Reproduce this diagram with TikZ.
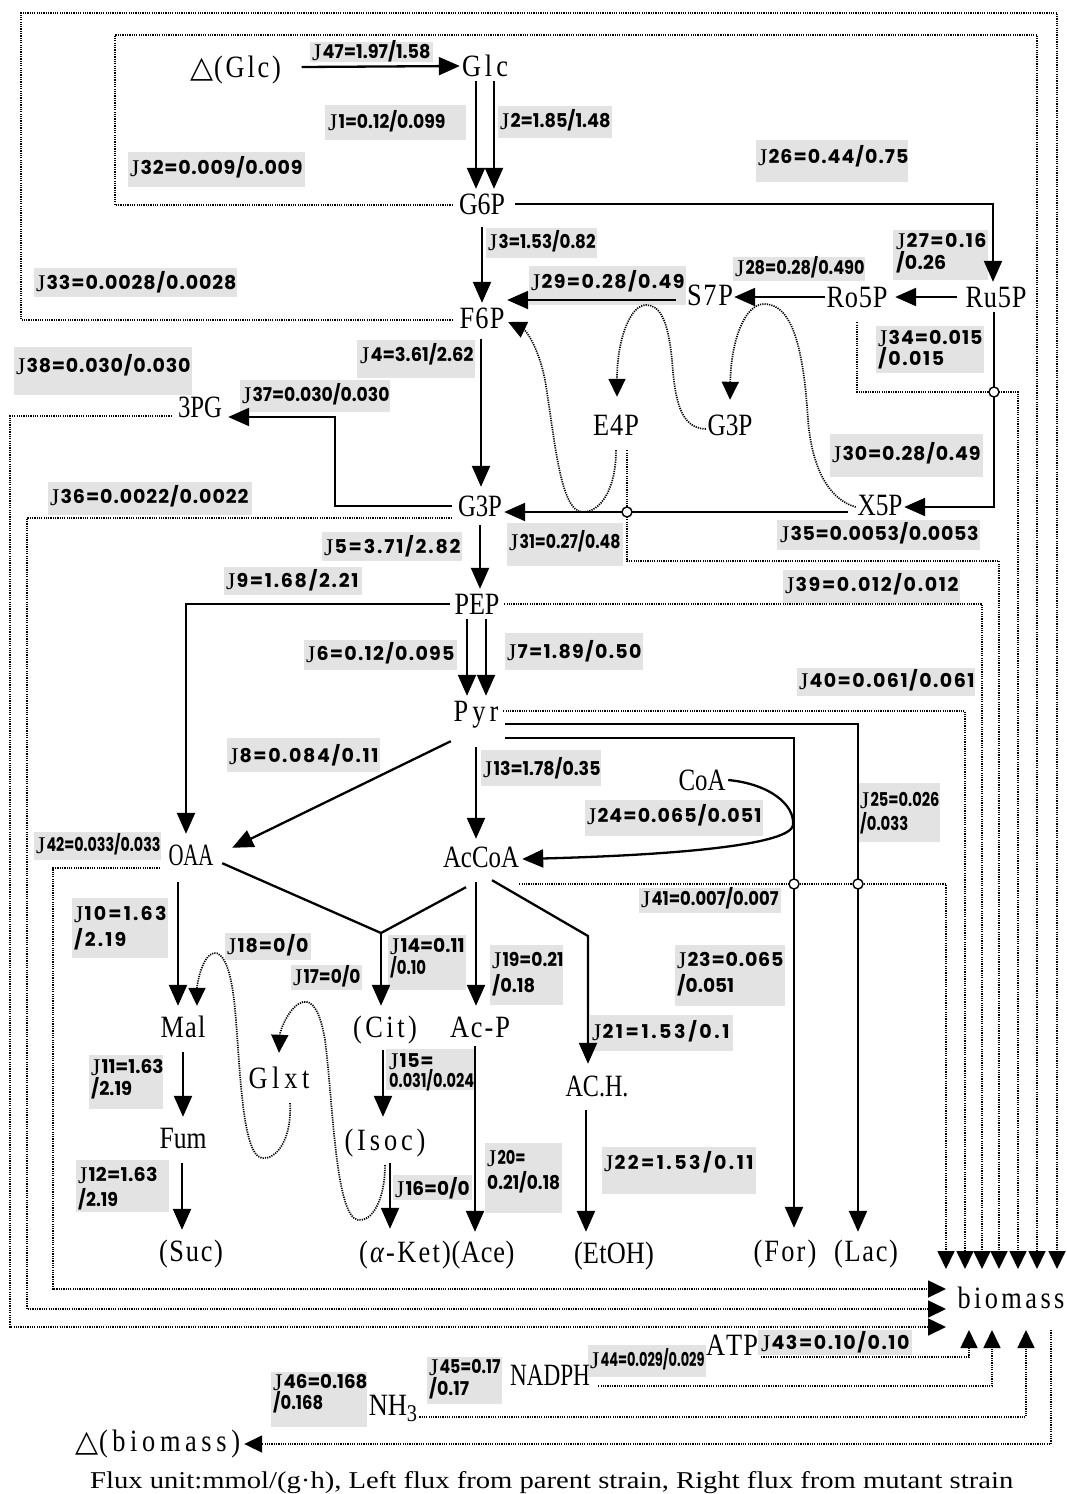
\documentclass[tikz,border=0pt]{standalone}
\usepackage{fontspec}
\usepackage{graphicx}
\usetikzlibrary{arrows.meta,calc}
\newfontfamily\metfam{Liberation Serif}[FakeStretch=0.85]
\newfontfamily\jfam{Liberation Serif}
\newfontfamily\popp{Poppins}
\newfontfamily\symf{DejaVu Sans}
\newfontfamily\capf{Liberation Serif}
\definecolor{lbg}{HTML}{E3E3E3}
\newcommand\metfont{\metfam\fontsize{31}{34}\selectfont}
\newcommand\labfont{\popp\bfseries\fontsize{19}{22}\selectfont}
\newcommand\jf{\jfam\mdseries\fontsize{24}{24}\selectfont}
\newcommand\Jl{\raisebox{-2pt}{\jf J}\kern1pt}
\newcommand\trisym{{\symf\fontsize{30}{30}\selectfont △}}
\newcommand\aK{{\itshape α}}
\newcommand\sthree{\raisebox{-6pt}{\fontsize{24}{24}\selectfont 3}}
\newlength\natw
\newlength\kamt
\newcount\nch
\def\cntaux#1{\ifx#1\relax\else\advance\nch by 1\relax\expandafter\cntaux\fi}
\def\spcaux#1{\ifx#1\relax\else\kern\kamt\relax#1\expandafter\spcaux\fi}
\def\spcfirst#1{#1\spcaux}
\newcommand\fitw[2]{\settowidth\natw{#2}%
  \ifdim\natw>#1pt\relax
    \pgfmathsetmacro\fitrat{#1/\natw}\scalebox{\fitrat}[1]{#2}%
  \else
    \nch=0\relax\cntaux#2\relax
    \kamt=#1pt\relax\advance\kamt by -\natw\relax
    \ifnum\nch>1\relax\advance\nch by -1\relax\divide\kamt by \nch\relax\fi
    \spcfirst#2\relax
  \fi}
\tikzset{
  met/.style={font=\metfont, inner sep=0pt, minimum height=30pt, text height=21pt, text depth=0pt},
  flux/.style={line width=2.3pt, -{Triangle[length=21pt,width=18pt]}},
  fline/.style={line width=2.3pt},
  dline/.style={line width=1.7pt, dash pattern=on 1.2pt off 1.1pt},
  darr/.style={dline, -{Triangle[length=18pt,width=17pt]}},
  lbx/.style={fill=lbg, inner sep=0pt, draw=none},
  ltx/.style={font=\labfont, inner sep=0pt, text height=13pt, text depth=0pt, align=left},
  jn/.style={circle, draw, fill=white, line width=1.4pt, minimum size=10pt, inner sep=0pt}
}
\newcommand\lbbox[5]{\node[lbx,minimum width={(#4)-(#2)},minimum height={(#5)-(#3)},anchor=north west] (#1) at (#2,#3) {};}
\newcommand\lbtxt[4]{\node[ltx,anchor=west] (#1) at (#2,#3) {#4};}
\begin{document}
\begin{tikzpicture}[x=1pt,y=-1pt]
\useasboundingbox[fill=white] (0,0) rectangle (1067,1494);
% ---------- label boxes ----------
\lbbox{b47}{310}{42}{433}{62}
\lbbox{b1}{325}{105}{466}{140}
\lbbox{b2}{498}{106}{612}{138}
\lbbox{b32}{128}{152}{305}{187}
\lbbox{b26}{756}{140}{908}{182}
\lbbox{b3}{486}{228}{597}{258}
\lbbox{b33}{34}{268}{237}{297}
\lbbox{b27}{893}{230}{988}{280}
\lbbox{b28}{733}{257}{865}{281}
\lbbox{b29}{529}{266}{686}{305}
\lbbox{b34}{876}{326}{984}{373}
\lbbox{b38}{14}{347}{192}{395}
\lbbox{b4}{357}{340}{475}{378}
\lbbox{b37}{240}{380}{390}{412}
\lbbox{b36}{48}{482}{252}{515}
\lbbox{b30}{830}{434}{983}{477}
\lbbox{b31}{507}{523}{623}{566}
\lbbox{b35}{777}{520}{980}{550}
\lbbox{b5}{322}{532}{462}{561}
\lbbox{b9}{224}{567}{362}{595}
\lbbox{b39}{783}{570}{960}{603}
\lbbox{b6}{304}{640}{457}{670}
\lbbox{b7}{505}{633}{643}{670}
\lbbox{b40}{797}{668}{975}{696}
\lbbox{b8}{227}{738}{380}{772}
\lbbox{b13}{481}{750}{601}{786}
\lbbox{b24}{585}{800}{763}{836}
\lbbox{b25}{857}{783}{940}{842}
\lbbox{b42}{34}{832}{161}{860}
\lbbox{b41}{639}{888}{781}{913}
\lbbox{b10}{72}{898}{168}{958}
\lbbox{b18}{225}{933}{311}{960}
\lbbox{b17}{291}{965}{362}{990}
\lbbox{b14}{388}{935}{466}{990}
\lbbox{b19}{490}{945}{563}{1005}
\lbbox{b23}{675}{945}{785}{1006}
\lbbox{b21}{590}{1015}{733}{1051}
\lbbox{b11}{89}{1055}{163}{1109}
\lbbox{b15}{386}{1049}{474}{1090}
\lbbox{b16}{393}{1175}{472}{1200}
\lbbox{b12}{76}{1160}{169}{1212}
\lbbox{b20}{485}{1143}{562}{1213}
\lbbox{b22}{602}{1147}{756}{1194}
\lbbox{b43}{758}{1330}{912}{1355}
\lbbox{b44}{588}{1345}{706}{1377}
\lbbox{b45}{427}{1357}{502}{1404}
\lbbox{b46}{271}{1372}{367}{1427}
% ---------- metabolite nodes ----------
\node[met,minimum width=95pt] (dGlc) at (236,67) {\trisym\fitw{67}{(Glc)}};
\node[met,minimum width=50pt] (Glc) at (485,66) {\fitw{46}{Glc}};
\node[met,minimum width=50pt] (G6P) at (482,204) {\fitw{46}{G6P}};
\node[met,minimum width=50pt] (F6P) at (482,318) {\fitw{45}{F6P}};
\node[met,minimum width=48pt] (S7P) at (710,295) {\fitw{46}{S7P}};
\node[met,minimum width=64pt] (Ro5P) at (857,297) {\fitw{61}{Ro5P}};
\node[met,minimum width=64pt] (Ru5P) at (996,297) {\fitw{61}{Ru5P}};
\node[met,minimum width=48pt] (E4P) at (616,425) {\fitw{46}{E4P}};
\node[met,minimum width=48pt] (G3Pb) at (730,425) {\fitw{45}{G3P}};
\node[met,minimum width=48pt] (PG3) at (200,407) {\fitw{44}{3PG}};
\node[met,minimum width=48pt] (G3P) at (480,506) {\fitw{44}{G3P}};
\node[met,minimum width=48pt] (X5P) at (880,505) {\fitw{45}{X5P}};
\node[met,minimum width=50pt] (PEP) at (477,604) {\fitw{45}{PEP}};
\node[met,minimum width=50pt] (Pyr) at (476,711) {\fitw{45}{Pyr}};
\node[met,minimum width=52pt] (CoA) at (702,780) {\fitw{47}{CoA}};
\node[met,minimum width=52pt] (OAA) at (191,855) {\fitw{45}{OAA}};
\node[met,minimum width=82pt] (AcCoA) at (481,857) {\fitw{76}{AcCoA}};
\node[met,minimum width=50pt] (Mal) at (183,1027) {\fitw{45}{Mal}};
\node[met,minimum width=66pt] (Cit) at (385,1027) {\fitw{64}{(Cit)}};
\node[met,minimum width=66pt] (AcP) at (480,1027) {\fitw{60}{Ac-P}};
\node[met,minimum width=66pt] (Glxt) at (279,1078) {\fitw{61}{Glxt}};
\node[met,minimum width=68pt] (ACH) at (597,1086) {\fitw{63}{AC.H.}};
\node[met,minimum width=50pt] (Fum) at (183,1138) {\fitw{47}{Fum}};
\node[met,minimum width=82pt] (Isoc) at (385,1140) {\fitw{81}{(Isoc)}};
\node[met,minimum width=66pt] (Suc) at (191,1251) {\fitw{64}{(Suc)}};
\node[met,minimum width=92pt] (aKet) at (405,1252) {\fitw{92}{(\aK-Ket)}};
\node[met,minimum width=64pt] (Ace) at (483,1252) {\fitw{63}{(Ace)}};
\node[met,minimum width=80pt] (EtOH) at (614,1253) {\fitw{80}{(EtOH)}};
\node[met,minimum width=64pt] (For) at (785,1251) {\fitw{63}{(For)}};
\node[met,minimum width=64pt] (Lac) at (866,1251) {\fitw{64}{(Lac)}};
\node[met,minimum width=108pt] (biomass) at (1011,1298) {\fitw{107}{biomass}};
\node[met,minimum width=50pt] (ATP) at (732,1345) {\fitw{49}{ATP}};
\node[met,minimum width=82pt] (NADPH) at (550,1375) {\fitw{80}{NADPH}};
\node[met,minimum width=48pt] (NH3) at (393,1405) {NH\sthree};
\node[met,minimum width=170pt] (dbio) at (158,1441) {\trisym\fitw{141}{(biomass)}};
% ---------- free-end coordinates ----------
\coordinate (bb1) at (946,1269);
\coordinate (bb2) at (965,1269);
\coordinate (bb3) at (982,1269);
\coordinate (bb4) at (999,1269);
\coordinate (bb5) at (1018,1269);
\coordinate (bb6) at (1037,1269);
\coordinate (bb7) at (1057,1269);
\coordinate (bl1) at (946,1289);
\coordinate (bl2) at (946,1309);
\coordinate (bl3) at (946,1327);
\coordinate (bu1) at (969,1330);
\coordinate (bu2) at (992,1330);
\coordinate (bu3) at (1026,1330);
\coordinate (bo) at (1051,1330);
\coordinate (jct) at (381,933);
% ---------- solid fluxes ----------
\draw[flux] ([xshift=18pt]dGlc.east) -- (Glc.west);
\draw[flux] ([xshift=-9pt]Glc.south) -- ([xshift=-6pt]G6P.north);
\draw[flux] ([xshift=9pt]Glc.south) -- ([xshift=12pt]G6P.north);
\draw[flux] ([yshift=-8pt]G6P.south) -- (F6P.north);
\draw[flux] ([xshift=8pt]G6P.east) -| ([xshift=-3pt]Ru5P.north);
\draw[flux] ([xshift=-7pt]Ru5P.west) -- ([xshift=6pt]Ro5P.east);
\draw[flux] (Ro5P.west) -- ([yshift=-2pt]S7P.east);
\draw[flux] ([xshift=-10pt,yshift=-5pt]S7P.west) -- ([yshift=18pt]F6P.east);
\draw[flux] ([xshift=-1pt,yshift=-6pt]F6P.south) -- ([xshift=1pt,yshift=4pt]G3P.north);
\draw[flux] ([xshift=-4pt]G3P.west) -| (335,417) -- ([xshift=4pt,yshift=-10pt]PG3.east);
\draw[flux] ([xshift=-8pt,yshift=-7pt]X5P.west) -- ([yshift=-6pt]G3P.east);
\draw[flux] ([xshift=-2pt]Ru5P.south) |- ([yshift=-2pt]X5P.east);
\draw[flux] ([yshift=-4pt]G3P.south) -- ([xshift=3pt]PEP.north);
\draw[flux] ([xshift=-2pt]PEP.west) -| ([xshift=-5pt,yshift=6pt]OAA.north);
\draw[flux] ([xshift=-10pt]PEP.south) -- ([xshift=-9pt]Pyr.north);
\draw[flux] ([xshift=9pt]PEP.south) -- ([xshift=10pt]Pyr.north);
\draw[flux] ([xshift=4pt,yshift=-13pt]Pyr.east) -| ([xshift=-8pt,yshift=4pt]Lac.north);
\draw[flux] ([xshift=4pt,yshift=-27pt]Pyr.east) -| ([xshift=9pt,yshift=8pt]For.north);
\draw[flux] ([yshift=-15pt]Pyr.south west) -- ([xshift=15pt,yshift=-8pt]OAA.north east);
\draw[flux] ([yshift=-21pt]Pyr.south) -- ([xshift=-5pt,yshift=3pt]AcCoA.north);
\draw[flux] (CoA.east) .. controls (770,784) and (795,805) .. (793,825)
   .. controls (790,848) and (640,856) .. ([yshift=-2pt]AcCoA.east);
\draw[fline] ([xshift=5pt,yshift=7pt]OAA.south east) -- (jct) -- ([xshift=-15pt,yshift=-15pt]AcCoA.south);
\draw[flux] (jct) -- ([xshift=-4pt,yshift=6pt]Cit.north);
\draw[flux] ([xshift=-5pt,yshift=-10pt]AcCoA.south) -- ([xshift=-4pt,yshift=6pt]AcP.north);
\draw[flux] ([xshift=11pt,yshift=-8pt]AcCoA.south) -- (588,936) -- ([xshift=-9pt,yshift=7pt]ACH.north);
\draw[flux] ([xshift=-13pt,yshift=-12pt]OAA.south) -- ([xshift=-5pt,yshift=6pt]Mal.north);
\draw[flux] ([xshift=-2pt,yshift=-8pt]Cit.south) -- ([xshift=-2pt,yshift=8pt]Isoc.north);
\draw[flux] ([xshift=5pt,yshift=-8pt]Isoc.south) -- ([xshift=-15pt,yshift=8pt]aKet.north);
\draw[flux] ([xshift=-5pt,yshift=-4pt]AcP.south) -- ([xshift=-8pt,yshift=5pt]Ace.north);
\draw[flux] ([xshift=-11pt,yshift=-9pt]ACH.south) -- ([xshift=-28pt,yshift=6pt]EtOH.north);
\draw[flux] ([yshift=-10pt]Mal.south) -- ([yshift=6pt]Fum.north);
\draw[flux] ([xshift=-1pt,yshift=-10pt]Fum.south) -- ([xshift=-9pt,yshift=6pt]Suc.north);
% ---------- dotted curves ----------
\draw[darr] ([yshift=-4pt]G3Pb.west) .. controls (680,428) and (675,400) .. (672,360)
   .. controls (668,320) and (660,305) .. (646,305)
   .. controls (630,305) and (617,340) .. ([xshift=1pt,yshift=13pt]E4P.north);
\draw[darr] ([yshift=-2pt]X5P.west) .. controls (830,500) and (812,470) .. (808,420)
   .. controls (803,340) and (790,304) .. (764,304)
   .. controls (745,304) and (731,340) .. ([yshift=10pt]G3Pb.north);
\draw[darr] ([yshift=-10pt]E4P.south) .. controls (616,490) and (600,512) .. (583,512)
   .. controls (560,512) and (555,440) .. (545,380)
   .. controls (538,345) and (525,330) .. ([xshift=1pt,yshift=-4pt]F6P.east);
\draw[darr] ([xshift=11pt,yshift=-10pt]Glxt.south) .. controls (292,1140) and (276,1160) .. (262,1158)
   .. controls (240,1155) and (240,1050) .. (234,1000)
   .. controls (230,965) and (222,952) .. (214,953)
   .. controls (202,955) and (197,985) .. ([xshift=14pt,yshift=6pt]Mal.north);
\draw[darr] ([yshift=-10pt]Isoc.south) .. controls (385,1200) and (372,1222) .. (358,1220)
   .. controls (335,1216) and (333,1100) .. (325,1040)
   .. controls (320,1010) and (312,1000) .. (303,1002)
   .. controls (290,1005) and (280,1030) .. ([yshift=10pt]Glxt.north);
% ---------- dotted lines to biomass ----------
\draw[darr] ([xshift=-4pt,yshift=-1pt]G6P.west) -- (115,205) -- (115,35) -| (bb6);
\draw[darr] ([xshift=-4pt,yshift=-2pt]F6P.west) -- (21,320) -- (21,13) -| (bb7);
\draw[darr] ([yshift=-10pt]Ro5P.south) -- (857,392) -| (bb5);
\draw[darr] ([xshift=11pt,yshift=-10pt]E4P.south) -- (627,561) -| (bb4);
\draw[darr] ([xshift=2pt]PEP.east) -| (bb3);
\draw[darr] ([xshift=2pt]Pyr.east) -| (bb2);
\draw[darr] ([xshift=-3pt,yshift=-27pt]AcCoA.east) -| (bb1);
\draw[darr] ([xshift=-4pt,yshift=-9pt]PG3.west) -- (10,416) |- (bl3);
\draw[darr] ([xshift=-4pt,yshift=-12pt]G3P.west) -- (27,518) |- (bl2);
\draw[darr] ([xshift=-5pt,yshift=-13pt]OAA.west) -- (53,868) |- (bl1);
\draw[darr] ([xshift=3pt,yshift=-12pt]ATP.east) -| (bu1);
\draw[darr] ([xshift=7pt,yshift=-11pt]NADPH.east) -| (bu2);
\draw[darr] ([xshift=2pt,yshift=-12pt]NH3.east) -| (bu3);
\draw[darr] (bo) |- ([xshift=1pt,yshift=-3pt]dbio.east);
% ---------- junction circles ----------
\node[jn] (c34) at (994,392) {};
\node[jn] (c35) at (627,512) {};
\node[jn] (c41a) at (794,884) {};
\node[jn] (c41b) at (858,884) {};
% ---------- label texts ----------
\lbtxt{t47}{312}{52}{\Jl\fitw{108}{47=1.97/1.58}}
\lbtxt{t1}{328}{122}{\Jl\fitw{107}{1=0.12/0.099}}
\lbtxt{t2}{500}{121}{\Jl\fitw{100}{2=1.85/1.48}}
\lbtxt{t32}{130}{168}{\Jl\fitw{162}{32=0.009/0.009}}
\lbtxt{t26}{758}{157}{\Jl\fitw{140}{26=0.44/0.75}}
\lbtxt{t3}{488}{242}{\Jl\fitw{97}{3=1.53/0.82}}
\lbtxt{t33}{36}{283}{\Jl\fitw{190}{33=0.0028/0.0028}}
\lbtxt{t27a}{896}{241}{\Jl\fitw{80}{27=0.16}}
\lbtxt{t27b}{896}{263}{\fitw{50}{/0.26}}
\lbtxt{t28}{735}{268}{\Jl\fitw{119}{28=0.28/0.490}}
\lbtxt{t29}{531}{282}{\Jl\fitw{143}{29=0.28/0.49}}
\lbtxt{t34a}{878}{338}{\Jl\fitw{94}{34=0.015}}
\lbtxt{t34b}{878}{359}{\fitw{66}{/0.015}}
\lbtxt{t38}{16}{366}{\Jl\fitw{164}{38=0.030/0.030}}
\lbtxt{t4}{360}{355}{\Jl\fitw{103}{4=3.61/2.62}}
\lbtxt{t37}{242}{395}{\Jl\fitw{137}{37=0.030/0.030}}
\lbtxt{t36}{50}{497}{\Jl\fitw{188}{36=0.0022/0.0022}}
\lbtxt{t30}{832}{454}{\Jl\fitw{138}{30=0.28/0.49}}
\lbtxt{t31}{509}{542}{\Jl\fitw{101}{31=0.27/0.48}}
\lbtxt{t35}{780}{534}{\Jl\fitw{188}{35=0.0053/0.0053}}
\lbtxt{t5}{324}{547}{\Jl\fitw{126}{5=3.71/2.82}}
\lbtxt{t9}{226}{581}{\Jl\fitw{122}{9=1.68/2.21}}
\lbtxt{t39}{785}{585}{\Jl\fitw{163}{39=0.012/0.012}}
\lbtxt{t6}{306}{654}{\Jl\fitw{138}{6=0.12/0.095}}
\lbtxt{t7}{507}{652}{\Jl\fitw{124}{7=1.89/0.50}}
\lbtxt{t40}{799}{681}{\Jl\fitw{165}{40=0.061/0.061}}
\lbtxt{t8}{229}{756}{\Jl\fitw{139}{8=0.084/0.11}}
\lbtxt{t13}{483}{769}{\Jl\fitw{107}{13=1.78/0.35}}
\lbtxt{t24}{587}{816}{\Jl\fitw{164}{24=0.065/0.051}}
\lbtxt{t25a}{860}{800}{\Jl\fitw{69}{25=0.026}}
\lbtxt{t25b}{860}{824}{\fitw{48}{/0.033}}
\lbtxt{t42}{36}{845}{\Jl\fitw{114}{42=0.033/0.033}}
\lbtxt{t41}{641}{899}{\Jl\fitw{127}{41=0.007/0.007}}
\lbtxt{t10a}{74}{914}{\Jl\fitw{82}{10=1.63}}
\lbtxt{t10b}{74}{940}{\fitw{52}{/2.19}}
\lbtxt{t18}{227}{946}{\Jl\fitw{71}{18=0/0}}
\lbtxt{t17}{293}{977}{\Jl\fitw{57}{17=0/0}}
\lbtxt{t14a}{390}{946}{\Jl\fitw{64}{14=0.11}}
\lbtxt{t14b}{390}{968}{\fitw{36}{/0.10}}
\lbtxt{t19a}{492}{960}{\Jl\fitw{61}{19=0.21}}
\lbtxt{t19b}{492}{986}{\fitw{43}{/0.18}}
\lbtxt{t23a}{677}{960}{\Jl\fitw{96}{23=0.065}}
\lbtxt{t23b}{677}{986}{\fitw{57}{/0.051}}
\lbtxt{t21}{592}{1032}{\Jl\fitw{127}{21=1.53/0.1}}
\lbtxt{t11a}{91}{1067}{\Jl\fitw{62}{11=1.63}}
\lbtxt{t11b}{91}{1089}{\fitw{41}{/2.19}}
\lbtxt{t15a}{389}{1061}{\Jl\fitw{34}{15=}}
\lbtxt{t15b}{389}{1081}{\fitw{85}{0.031/0.024}}
\lbtxt{t16}{395}{1189}{\Jl\fitw{64}{16=0/0}}
\lbtxt{t12a}{78}{1175}{\Jl\fitw{69}{12=1.63}}
\lbtxt{t12b}{78}{1200}{\fitw{40}{/2.19}}
\lbtxt{t20a}{487}{1158}{\Jl\fitw{28}{20=}}
\lbtxt{t20b}{487}{1183}{\fitw{73}{0.21/0.18}}
\lbtxt{t22}{604}{1163}{\Jl\fitw{139}{22=1.53/0.11}}
\lbtxt{t43}{761}{1343}{\Jl\fitw{138}{43=0.10/0.10}}
\lbtxt{t44}{590}{1360}{\Jl\fitw{104}{44=0.029/0.029}}
\lbtxt{t45a}{429}{1367}{\Jl\fitw{61}{45=0.17}}
\lbtxt{t45b}{429}{1389}{\fitw{40}{/0.17}}
\lbtxt{t46a}{273}{1382}{\Jl\fitw{84}{46=0.168}}
\lbtxt{t46b}{273}{1403}{\fitw{50}{/0.168}}
% ---------- caption ----------
\node[anchor=base west,inner sep=0pt] (cap) at (90,1488)
  {\resizebox{923pt}{17pt}{\capf\fontsize{20}{20}\selectfont Flux unit:mmol/(g·h), Left flux from parent strain, Right flux from mutant strain}};
\end{tikzpicture}
\end{document}
